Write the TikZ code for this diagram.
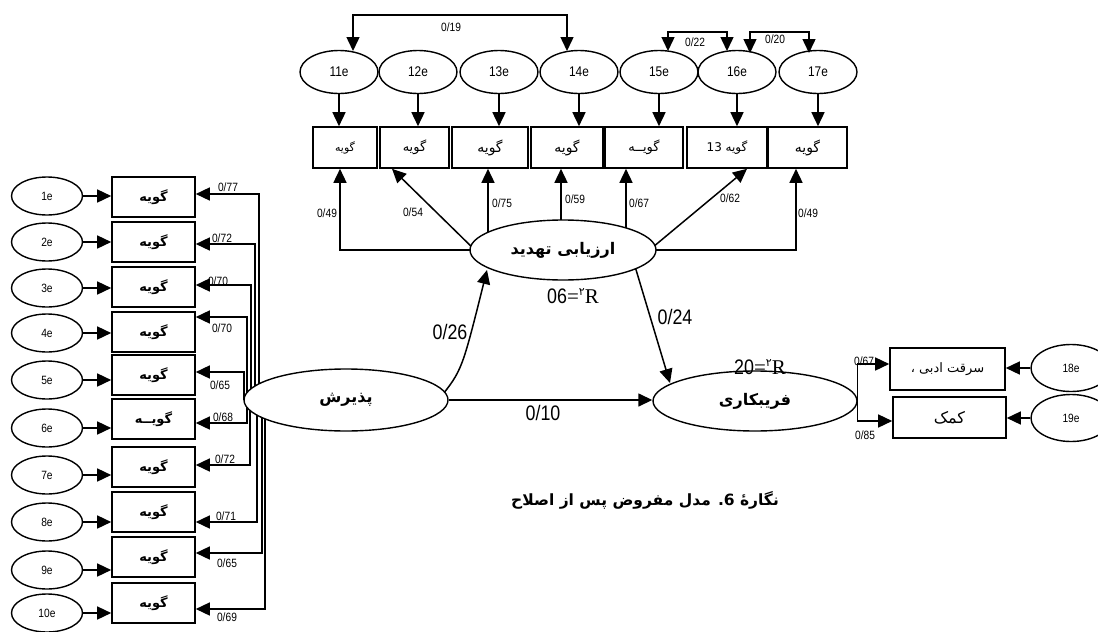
\documentclass[tikz,border=0pt]{standalone}
\usepackage{fontspec}
\setmainfont{Liberation Serif}
\newfontfamily\numf{Liberation Sans}[FakeStretch=0.85]
\newfontfamily\fa[Script=Arabic]{DejaVu Sans}
\newfontfamily\fab[Script=Arabic]{DejaVu Sans Bold}
\TeXXeTstate=1
\usetikzlibrary{arrows.meta,shapes.geometric,backgrounds,calc}
\tikzset{
  lat/.style={draw, ellipse, line width=1.4pt, fill=white, inner sep=0pt},
  obs/.style={draw, rectangle, line width=1.6pt, fill=white, inner sep=0pt},
  arr/.style={line width=1.5pt, -{Triangle[length=14pt,width=13pt]}},
  dbl/.style={line width=1.5pt, {Triangle[length=14pt,width=13pt]}-{Triangle[length=14pt,width=13pt]}},
  num/.style={font=\numf\fontsize{12}{12}\selectfont, inner sep=0pt},
  big/.style={font=\numf\fontsize{21}{21}\selectfont, inner sep=0pt},
  elab/.style={font=\numf\fontsize{12}{12}\selectfont},
  tlab/.style={font=\numf\fontsize{14}{14}\selectfont},
}
\begin{document}
\begin{tikzpicture}[x=1pt,y=-1pt]
\useasboundingbox (0,0) rectangle (1098,632);

% ---------- left column ----------
\foreach \i/\ey/\by/\vx/\hy/\lab/\lx/\ly/\tx in {
 1/196/197/259/194/77/228/187/گویه,
 2/242/242/255/244/72/222/238/گویه,
 3/288/287/251/285/70/218/281/گویه,
 4/333/332/247/317/70/222/328/گویه,
 5/380/375/244/372/65/220/385/گویه,
 6/428/419/247/423/68/223/417/گویــه,
 7/475/467/250/465/72/225/459/گویه,
 8/522/512/257/522/71/226/516/گویه,
 9/570/557/262/553/65/227/563/گویه,
 10/613/603/265/609/69/227/617/گویه}
{
 \node[lat, minimum width=71pt, minimum height=38pt, elab] (e\i) at (47,\ey) {\i e};
 \node[obs, minimum width=83pt, minimum height=40pt, font=\fab\fontsize{13}{13}\selectfont] (b\i) at (153.5,\by) {\tx};
 \draw[arr] (e\i.east) -- (e\i.east -| b\i.west);
 \node[num] (n\i) at (\lx,\ly) {0/\lab};
 \coordinate (s\i) at (\vx,400);
 \begin{pgfonlayer}{background}
 \draw[arr] (s\i) |- (b\i.east |- 0,\hy);
 \end{pgfonlayer}
}

% ---------- latent variables ----------
\node[lat, minimum width=204pt, minimum height=62pt, font=\fab\fontsize{16}{16}\selectfont] (P) at (346,400) {پذیرش};
\node[lat, minimum width=186pt, minimum height=60pt, font=\fab\fontsize{16}{16}\selectfont] (A) at (563,250) {\beginR ارزیابی تهدید\endR};
\node[lat, minimum width=204pt, minimum height=60pt, font=\fab\fontsize{16}{16}\selectfont] (F) at (755,401) {فریبکاری};

% ---------- top row ----------
\foreach \i/\ex/\bx/\bw/\fs/\tx in {
 1/339/345/64/11/گویه,
 2/418/414.5/69/13/گویه,
 3/499/490/76/14/گویه,
 4/579/567/72/14/گویه,
 5/659/644/78/13/گویــه,
 6/737/727/80/12/{\beginR گویه \beginL13\endL\endR},
 7/818/807.5/79/14/گویه}
{
 \pgfmathtruncatemacro{\en}{\i+10}
 \node[lat, minimum width=78pt, minimum height=43pt, tlab] (t\en) at (\ex,72) {\en e};
 \node[obs, minimum width=\bw pt, minimum height=41pt, font=\fa\fontsize{\fs}{\fs}\selectfont] (t\i) at (\bx,147.5) {\tx};
 \draw[arr] (t\en.south) -- (t\en.south |- t\i.north);
}

% covariances
\coordinate (c1) at (353,15);
\coordinate (c2) at (567,15);
\draw[dbl] (353,51) -- (c1) -- (c2) -- (567,51);
\node[num] (k1) at (451,27) {0/19};
\coordinate (c3) at (668,32);
\coordinate (c4) at (727,32);
\draw[dbl] (668,51) -- (c3) -- (c4) -- (727,51);
\node[num] (k2) at (695,42) {0/22};
\coordinate (c5) at (750,32);
\coordinate (c6) at (809,32);
\draw[dbl] (750,53) -- (c5) -- (c6) -- (809,53);
\node[num] (k3) at (775,39) {0/20};

% ---------- loadings of A and structural paths ----------
\begin{pgfonlayer}{background}
\draw[arr] (A.center) -| (t1.south -| 340,0);
\draw[arr] (480,255) -- (t2.south -| 392,0);
\draw[arr] (488,250) -- (t3.south -| 488,0);
\draw[arr] (561,250) -- (t4.south -| 561,0);
\draw[arr] (626,250) -- (t5.south -| 626,0);
\draw[arr] (641,257) -- (t6.south -| 747,0);
\draw[arr] (A.center) -| (t7.south -| 796,0);
\draw[arr] (631,253) -- (670,383);
\draw[arr] (440,398) .. controls (462,370) .. (487,270);
\draw[arr] (P.east) -- (P.east -| F.west);
\end{pgfonlayer}
\node[num] (a1) at (327,213) {0/49};
\node[num] (a2) at (413,212) {0/54};
\node[num] (a3) at (502,203) {0/75};
\node[num] (a4) at (575,199) {0/59};
\node[num] (a5) at (639,203) {0/67};
\node[num] (a6) at (730,198) {0/62};
\node[num] (a7) at (808,213) {0/49};

\node[big] (g1) at (450,332) {0/26};
\node[big] (g2) at (675,317) {0/24};
\node[big] (g3) at (543,413) {0/10};

\node[inner sep=0pt, font=\fontsize{21}{21}\selectfont] (r1) at (573,296) {{\numf 06}={\fa\fontsize{11}{11}\selectfont\raisebox{8pt}{۲}}R};
\node[inner sep=0pt, font=\fontsize{21}{21}\selectfont] (r2) at (760,367) {{\numf 20}={\fa\fontsize{11}{11}\selectfont\raisebox{8pt}{۲}}R};

% ---------- right side ----------
\node[obs, minimum width=115pt, minimum height=42pt, font=\fa\fontsize{13}{13}\selectfont] (R1) at (947.5,369) {\beginR سرقت ادبی ،\endR};
\node[obs, minimum width=113pt, minimum height=41pt, font=\fa\fontsize{16}{16}\selectfont] (R2) at (949.5,417.5) {کمک};
\node[lat, minimum width=80pt, minimum height=47pt, elab] (e18) at (1071,368) {18e};
\node[lat, minimum width=80pt, minimum height=47pt, elab] (e19) at (1071,418) {19e};
\draw[arr] (e18.west) -- (e18.west -| R1.east);
\draw[arr] (e19.west) -- (e19.west -| R2.east);
\draw[arr] (F.east) |- (R1.west |- 0,364);
\draw[arr] (F.east) |- (R2.west |- 0,421);
\node[num] (f1) at (864,361) {0/67};
\node[num] (f2) at (865,435) {0/85};

% ---------- caption ----------
\node[font=\fab\fontsize{15.5}{15.5}\selectfont] (cap) at (645,500) {\beginR نگارهٔ \beginL6.\endL{} مدل مفروض پس از اصلاح\endR};
\end{tikzpicture}
\end{document}
